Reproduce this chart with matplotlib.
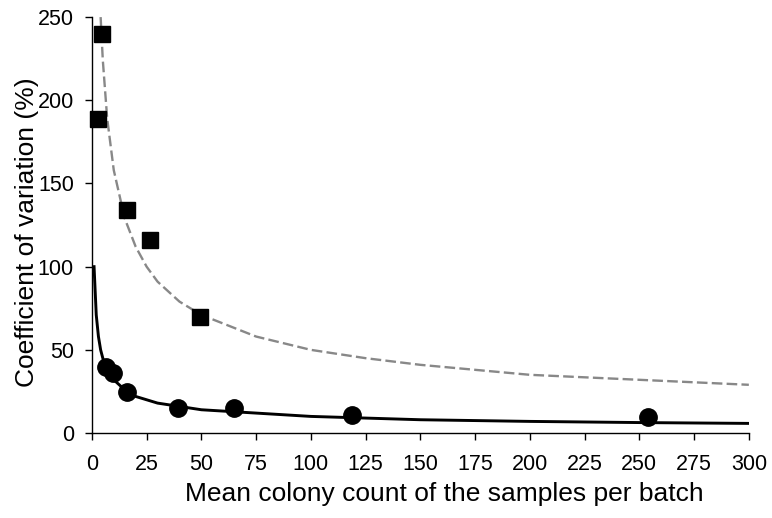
import matplotlib
matplotlib.use("Agg")
import matplotlib.pyplot as plt

plt.rcParams['font.family'] = ['Liberation Sans', 'DejaVu Sans']

# measured points
square_x = [4.6, 2.7, 16, 26.5, 49.3]
square_y = [240, 189, 134, 116, 70]
circle_x = [6.4, 9.6, 16, 39.3, 64.8, 119, 254]
circle_y = [39.7, 36, 24.6, 15, 15, 10.8, 9.6]

# fitted curves
dash_x = [4, 5, 7, 10, 15, 20, 25, 30, 40, 50, 75, 100, 125, 150, 200, 250, 300]
dash_y = [250, 224, 189, 158, 129, 112, 100, 91, 79, 71, 58, 50, 45, 41, 35, 32, 29]
solid_x = [1, 2, 3, 4, 5, 7, 10, 15, 20, 25, 30, 40, 50, 75, 100, 125, 150, 200, 250, 300]
solid_y = [100, 71, 58, 50, 45, 38, 32, 26, 22, 20, 18, 16, 14, 12, 10, 9, 8, 7, 6.3, 5.8]

x_ticks = list(range(0, 301, 25))
y_ticks = list(range(0, 251, 50))

fig = plt.figure(figsize=(7.72, 5.18), dpi=100)
ax = fig.add_axes([0.119, 0.164, 0.851, 0.803])

ax.plot(dash_x, dash_y, color="#888888", lw=1.7, ls=(0, (4.5, 1.8)), zorder=2)
ax.plot(solid_x, solid_y, color="black", lw=2.1, zorder=2)
ax.plot(square_x, square_y, ls="none", marker="s", ms=12, color="black",
        clip_on=False, zorder=3)
ax.plot(circle_x, circle_y, ls="none", marker="o", ms=12.5, color="black",
        clip_on=False, zorder=3)

ax.set_xlim(0, 300)
ax.set_ylim(0, 250)
ax.set_xticks(x_ticks)
ax.set_yticks(y_ticks)
for side in ("top", "right"):
    ax.spines[side].set_visible(False)
for side in ("left", "bottom"):
    ax.spines[side].set_linewidth(1.0)
ax.tick_params(direction="out", length=5, width=1, labelsize=15.5)
ax.tick_params(axis="x", pad=10)
ax.tick_params(axis="y", pad=8)

ax.set_xlabel("Mean colony count of the samples per batch", fontsize=19)
ax.set_ylabel("Coefficient of variation (%)", fontsize=19)
ax.xaxis.set_label_coords(0.536, -0.118)
ax.yaxis.set_label_coords(-0.081, 0.483)

fig.savefig("out.png", dpi=100)
